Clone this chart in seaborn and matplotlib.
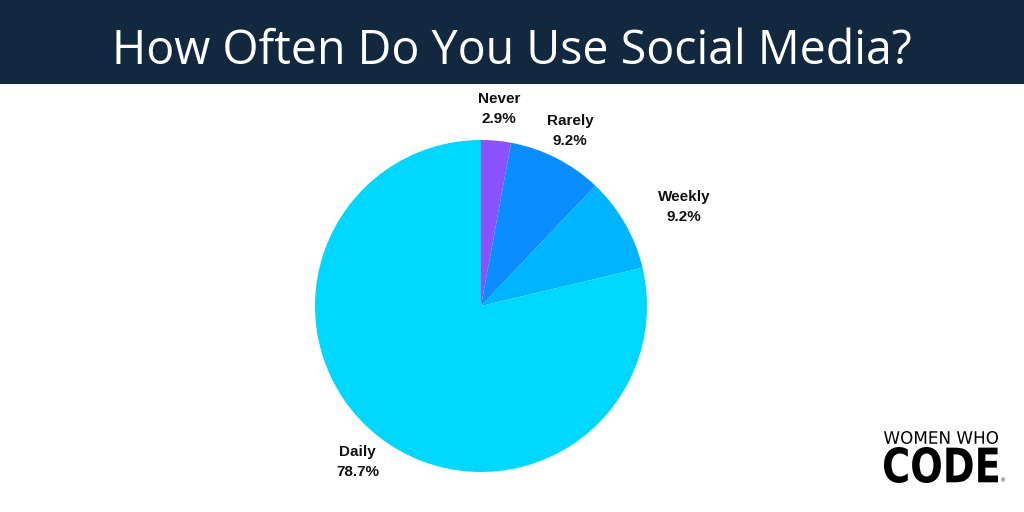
import numpy as np
import matplotlib
matplotlib.use("Agg")
import matplotlib.pyplot as plt
import seaborn as sns
from matplotlib.patches import Rectangle, PathPatch
from matplotlib.textpath import TextPath
from matplotlib.font_manager import FontProperties
from matplotlib.transforms import Affine2D

# Data
categories = ["Never", "Rarely", "Weekly", "Daily"]
shares = [2.9, 9.2, 9.2, 78.7]
colors = ["#8C52FF", "#0A8DFF", "#00B4FF", "#00D7FF"]

# label placement (radius factor, angle tweak in degrees)
label_dist = [1.19, 1.18, 1.36, 1.2]
label_turn = [0, 0, -4, 0]

title = "How Often Do You Use Social Media?"

sns.set_style("white")
plt.rcParams["font.family"] = ["Liberation Sans", "DejaVu Sans"]

W, H = 1024, 512
fig = plt.figure(figsize=(W / 100, H / 100), dpi=100)
fig.patch.set_facecolor("white")

# pixel-based axes, y up
ax = fig.add_axes([0, 0, 1, 1])
cx, cy, r = 481, H - 306, 166

palette = sns.color_palette(colors)
wedges, _ = ax.pie(
    shares,
    colors=palette,
    startangle=90,
    counterclock=False,
    center=(cx, cy),
    radius=r,
    wedgeprops=dict(linewidth=0),
)

for w, name, pct, d, t in zip(wedges, categories, shares, label_dist, label_turn):
    mid = np.deg2rad((w.theta1 + w.theta2) / 2 + t)
    x = cx + r * d * np.cos(mid)
    y = cy + r * d * np.sin(mid)
    ax.text(x, y, f"{name}\n{pct:.1f}%", ha="center", va="center",
            fontsize=11, fontweight="bold", color="#111111", linespacing=1.55)

ax.set_xlim(0, W)
ax.set_ylim(0, H)
ax.set_aspect("equal")
ax.axis("off")

# header band
fig.patches.append(Rectangle((0, 1 - 84 / H), 1, 84 / H, transform=fig.transFigure,
                             facecolor="#12283E", edgecolor="none", zorder=0))
fig.text(0.5, 1 - 64 / H, title, ha="center", va="baseline", color="white",
         fontsize=33.5, family=["Open Sans", "DejaVu Sans"])


# logo: text paths squeezed into their boxes (pixel coords, y up)
def fit_text(s, x0, x1, y0, y1, weight):
    tp = TextPath((0, 0), s, size=100,
                  prop=FontProperties(family="DejaVu Sans", weight=weight))
    ext = tp.get_extents()
    tr = (Affine2D().translate(-ext.x0, -ext.y0)
          .scale((x1 - x0) / ext.width, (y1 - y0) / ext.height)
          .translate(x0, y0))
    ax.add_patch(PathPatch(tr.transform_path(tp), facecolor="black",
                           edgecolor="none", lw=0))


fit_text("WOMEN WHO", 884, 998, H - 444, H - 431, "normal")
fit_text("CODE", 884, 998, H - 483, H - 447, "heavy")
ax.text(1003, H - 481, "®", ha="center", va="center", fontsize=4, color="black")

fig.savefig("out.png", dpi=100)
